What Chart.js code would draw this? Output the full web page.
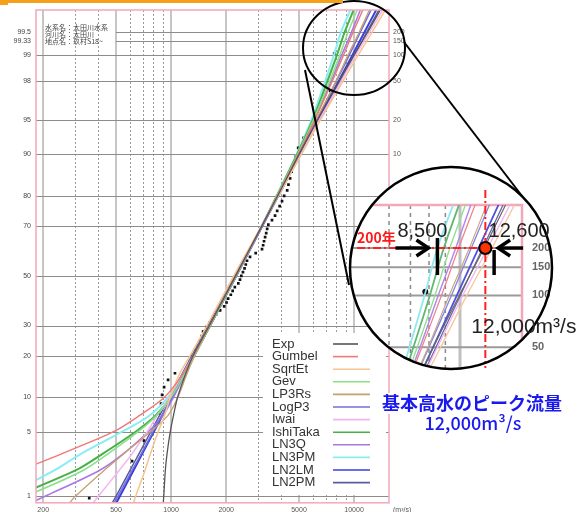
<!DOCTYPE html>
<html><head><meta charset="utf-8">
<script src="https://cdn.jsdelivr.net/npm/chart.js@4.4.1/dist/chart.umd.min.js"></script>
<style>
html,body{margin:0;padding:0;background:#fff;}
#wrap{position:relative;width:578px;height:512px;overflow:hidden;background:#fff;}
#main{position:absolute;left:0;top:0;width:578px;height:512px;}
#inset{position:absolute;left:345px;top:160px;width:233px;height:220px;}
</style></head><body>
<div id="wrap">
<canvas id="main" width="578" height="512"></canvas>
<canvas id="inset" width="233" height="220"></canvas>
</div>
<script>
// ---------------- DATA ----------------
const seriesNames = ['Exp','Gumbel','SqrtEt','Gev','LP3Rs','LogP3','Iwai','IshiTaka','LN3Q','LN3PM','LN2LM','LN2PM'];
// non-exceedance probability (%) at which each fitted curve is read
const probGrid = [0.8, 1, 2, 3, 5, 7, 10, 15, 20, 30, 50, 70, 80, 90, 95, 98, 99, 99.5, 99.8];
// discharge (m3/s) of each fitted curve at probGrid
const expQ      = [905, 912, 930, 950, 990, 1030, 1085, 1200, 1320, 1620, 2250, 3130, 3820, 5000, 6300, 8250, 9950, 11900, 14600];
const gumbelQ   = [50, 70, 150, 250, 485, 670, 920, 1160, 1330, 1620, 2250, 3130, 3800, 4950, 6100, 7600, 8750, 9900, 11600];
const sqrtEtQ   = [620, 640, 720, 770, 850, 920, 990, 1110, 1270, 1570, 2200, 3120, 3850, 5150, 6550, 8700, 10500, 12600, 15600];
const gevQ      = [120, 160, 330, 450, 660, 830, 1000, 1185, 1338, 1632, 2265, 3130, 3790, 4920, 6000, 7350, 8350, 9300, 10800];
const lp3rsQ    = [275, 300, 430, 550, 770, 960, 1090, 1220, 1350, 1640, 2255, 3120, 3800, 4980, 6220, 7950, 9250, 10700, 12600];
const logp3Q    = [485, 512, 612, 685, 797, 888, 1007, 1180, 1336, 1636, 2280, 3160, 3840, 5020, 6250, 8000, 9400, 10850, 12900];
const iwaiQ     = [370, 400, 520, 610, 740, 840, 975, 1160, 1320, 1625, 2270, 3150, 3850, 5100, 6450, 8500, 10200, 12200, 15100];
const ishiTakaQ = [110, 140, 300, 420, 640, 820, 990, 1185, 1338, 1635, 2270, 3130, 3780, 4880, 5950, 7150, 8050, 8900, 10300];
const ln3qQ     = [165, 205, 405, 545, 750, 900, 1030, 1190, 1340, 1635, 2265, 3135, 3800, 4950, 6050, 7500, 8550, 9700, 11200];
const ln3pmQ    = [90, 120, 230, 320, 540, 760, 960, 1185, 1338, 1635, 2265, 3120, 3770, 4850, 5850, 6950, 7750, 8500, 9900];
const ln2lmQ    = [498, 525, 623, 694, 805, 895, 1012, 1181, 1334, 1629, 2265, 3148, 3846, 5070, 6368, 8240, 9775, 11430, 13830];
const ln2pmQ    = [473, 500, 596, 666, 775, 864, 979, 1148, 1300, 1596, 2239, 3141, 3855, 5117, 6467, 8414, 10020, 11780, 14310];
// observed annual maxima (plotting positions)
const obsQ = [357,612,711,818,860,882,893,916,963,1050,
 1239,1270,1310,1352,1400,1439,1470,1496,1560,1620,
 1690,1760,1853,1950,2010,2050,2120,2170,2230,2330,
 2380,2420,2470,2520,2560,2600,2700,2900,3140,3185,
 3220,3265,3310,3350,3400,3560,3700,3800,3920,4040,
 4150,4310,4380,4470,4560,4640,4800,4950,5300,5970,
 6780,7400,7790];
const obsP = [0.95,2.53,4.11,5.70,7.28,8.86,10.44,12.03,13.61,15.19,
 16.77,18.35,19.94,21.52,23.10,24.68,26.27,27.85,29.43,31.01,
 32.59,34.18,35.76,37.34,38.92,40.51,42.09,43.67,45.25,46.84,
 48.42,50.00,51.58,53.16,54.75,56.33,57.91,59.49,61.08,62.66,
 64.24,65.82,67.41,68.99,70.57,72.15,73.73,75.32,76.90,78.48,
 80.06,81.65,83.23,84.81,86.39,87.97,89.56,91.14,92.72,94.30,
 95.89,97.47,99.05];
// axis ticks
const leftTickP = [1,5,10,20,30,50,70,80,90,95,98,99,99.33,99.5];
const leftTickLabels = ['1','5','10','20','30','50','70','80','90','95','98','99','99.33','99.5'];
const rightTickP = [90,95,98,99,99.333,99.5];
const rightTickLabels = ['10','20','50','100','150','200'];
const insetTickP = [99.5,99.333,99,98];
const insetTickLabels = ['200','150','100','50'];
const xTickValues = [200,500,1000,2000,5000,10000];
const xTickLabels = ['200','500','1000','2000','5000','10000'];
const xMinorGrid = [300,400,600,700,800,900,3000,4000,6000,7000,8000,9000];
const insetMinorGrid = [6000,7000,8000,9000];
const insetMajorGrid = [10000];
const lowValue = 8500, highValue = 12600, designValue = 12000, designP = 99.5;
const infoLines = ['水系名：太田川水系','河川名：太田川','地点名：玖村S18~'];
const blueTitle = '基本高水のピーク流量';
const blueValue = '12,000m³/s';

// ---------------- STYLE ----------------
const curveColors = ['#555555','#f07878','#f6c48c','#88e088','#c8a070','#7070d8','#f4b4f0','#48b048','#a878e8','#88eef4','#3c3ce0','#5c5c9c'];
const curveWidths = [1.3,1.4,1.5,1.5,1.3,1.5,1.5,2,1.6,2,2,1.5];
const insetColors = ['#666666','#f08090','#f6c8a0','#90e090','#c8a880','#8888e0','#f4b8f0','#60b870','#b088e8','#90e8f0','#5050e0','#6868a8'];

// inverse normal CDF (normal probability paper axis)
function probit(p){
  const a=[-3.969683028665376e+01,2.209460984245205e+02,-2.759285104469687e+02,1.383577518672690e+02,-3.066479806614716e+01,2.506628277459239e+00];
  const b=[-5.447609879822406e+01,1.615858368580409e+02,-1.556989798598866e+02,6.680131188771972e+01,-1.328068155288572e+01];
  const c=[-7.784894002430293e-03,-3.223964580411365e-01,-2.400758277161838e+00,-2.549732539343734e+00,4.374664141464968e+00,2.938163982698783e+00];
  const d=[7.784695709041462e-03,3.224671290700398e-01,2.445134137142996e+00,3.754408661907416e+00];
  const pl=0.02425; let q,r;
  if(p<pl){q=Math.sqrt(-2*Math.log(p));return (((((c[0]*q+c[1])*q+c[2])*q+c[3])*q+c[4])*q+c[5])/((((d[0]*q+d[1])*q+d[2])*q+d[3])*q+1);}
  if(p<=1-pl){q=p-0.5;r=q*q;return (((((a[0]*r+a[1])*r+a[2])*r+a[3])*r+a[4])*r+a[5])*q/(((((b[0]*r+b[1])*r+b[2])*r+b[3])*r+b[4])*r+1);}
  q=Math.sqrt(-2*Math.log(1-p));return -(((((c[0]*q+c[1])*q+c[2])*q+c[3])*q+c[4])*q+c[5])/((((d[0]*q+d[1])*q+d[2])*q+d[3])*q+1);
}
const Z = pct => probit(pct/100);
const curveQ = [expQ,gumbelQ,sqrtEtQ,gevQ,lp3rsQ,logp3Q,iwaiQ,ishiTakaQ,ln3qQ,ln3pmQ,ln2lmQ,ln2pmQ];

function buildDatasets(colors, wScale, ptR, ptStyle){
  const ds = seriesNames.map((name,i)=>({
    label:name, showLine:true, tension:0.3, fill:false,
    data: probGrid.map((p,j)=>({x:curveQ[i][j], y:Z(p)})),
    borderColor:colors[i], borderWidth:curveWidths[i]*wScale,
    pointRadius:0, pointHoverRadius:0
  }));
  ds.push({label:'obs', showLine:false,
    data: obsQ.map((q,j)=>({x:q, y:Z(obsP[j])})),
    pointStyle:ptStyle, pointRadius:ptR, pointHoverRadius:ptR,
    backgroundColor:'#111', borderColor:'#111', borderWidth:0});
  return ds;
}

Chart.defaults.font.family = "'Liberation Sans', Arial, sans-serif";
const CJK = "'Noto Sans CJK JP', sans-serif";

function arrow(ctx, x0, y, x1){
  ctx.beginPath(); ctx.moveTo(x0,y); ctx.lineTo(x1,y); ctx.stroke();
  const d = x1>x0 ? -1 : 1;
  ctx.beginPath(); ctx.moveTo(x1+d*12,y-8); ctx.lineTo(x1,y); ctx.lineTo(x1+d*12,y+8); ctx.stroke();
}

// ---------------- MAIN CHART ----------------
const mainPlugin = {
  id:'mainDecor',
  beforeDatasetsDraw(chart){
    const {ctx, chartArea:a, scales:{x,y}} = chart;
    ctx.save();
    ctx.beginPath(); ctx.rect(a.left,a.top,a.right-a.left,a.bottom-a.top); ctx.clip();
    ctx.strokeStyle='#9a9a9a'; ctx.lineWidth=1; ctx.setLineDash([2,2]);
    xMinorGrid.forEach(v=>{const px=Math.round(x.getPixelForValue(v))+0.5;ctx.beginPath();ctx.moveTo(px,a.top);ctx.lineTo(px,a.bottom);ctx.stroke();});
    ctx.setLineDash([]); ctx.strokeStyle='#c6c6c6'; ctx.lineWidth=2;
    xTickValues.forEach(v=>{const px=Math.round(x.getPixelForValue(v));ctx.beginPath();ctx.moveTo(px,a.top);ctx.lineTo(px,a.bottom);ctx.stroke();});
    ctx.strokeStyle='#8c8c8c'; ctx.lineWidth=1;
    leftTickP.forEach(p=>{const py=Math.round(y.getPixelForValue(Z(p)))+0.5;const x0=p>=99.3?x.getPixelForValue(500):a.left;ctx.beginPath();ctx.moveTo(x0,py);ctx.lineTo(a.right,py);ctx.stroke();});
    ctx.restore();
  },
  afterDraw(chart){
    const {ctx, chartArea:a, scales:{x}} = chart;
    ctx.save();
    // legend box
    ctx.fillStyle='#fff'; ctx.fillRect(263,333,123,162);
    ctx.font="13px 'Liberation Sans', Arial, sans-serif"; ctx.textBaseline='middle'; ctx.textAlign='left';
    seriesNames.forEach((n,i)=>{
      const yy=344+i*12.6;
      ctx.fillStyle='#333'; ctx.fillText(n,272,yy);
      ctx.strokeStyle=curveColors[i]; ctx.lineWidth=1.6;
      ctx.beginPath(); ctx.moveTo(333,yy); ctx.lineTo(i<2?358:370,yy); ctx.stroke();
    });
    // plot border
    ctx.strokeStyle='#f2a8b8'; ctx.lineWidth=1.5;
    ctx.strokeRect(a.left,a.top,a.right-a.left,a.bottom-a.top);
    // bottom axis labels
    ctx.fillStyle='#555'; ctx.font="7px 'Liberation Sans', Arial"; ctx.textBaseline='top'; ctx.textAlign='center';
    xTickValues.forEach((v,i)=>ctx.fillText(xTickLabels[i], x.getPixelForValue(v), 507));
    ctx.textAlign='left';
    ctx.fillText('(m³/s)',393,507);
    // info text
    ctx.fillStyle='#444'; ctx.font="7px "+CJK; ctx.textBaseline='middle';
    infoLines.forEach((t,i)=>ctx.fillText(t,45,27+i*7.3));
    // blue caption
    ctx.fillStyle='#fff'; ctx.fillRect(376,393,192,21); ctx.fillRect(423,414,102,18);
    ctx.fillStyle='#1a1aee'; ctx.textAlign='center'; ctx.textBaseline='middle';
    ctx.font="bold 18px "+CJK; ctx.fillText(blueTitle,472,403);
    ctx.font="500 18px "+CJK; ctx.fillText(blueValue,473,423);
    // small magnifier ellipse and tangent lines
    ctx.strokeStyle='#000'; ctx.lineWidth=2;
    ctx.beginPath(); ctx.ellipse(354,48,51,47,0,0,Math.PI*2); ctx.stroke();
    ctx.beginPath(); ctx.moveTo(305,70); ctx.lineTo(349,285); ctx.stroke();
    ctx.beginPath(); ctx.moveTo(404,42); ctx.lineTo(522,196); ctx.stroke();
    // orange header bar
    ctx.fillStyle='#f5a01a'; ctx.fillRect(0,0,343,3); ctx.fillRect(0,0,8,5);
    ctx.restore();
  }
};

new Chart(document.getElementById('main'), {
  type:'scatter',
  data:{datasets:buildDatasets(curveColors,1,1.9,'rect')},
  options:{
    responsive:false, animation:false, devicePixelRatio:1,
    layout:{padding:{left:0,right:169,top:10,bottom:0}},
    plugins:{legend:{display:false},tooltip:{enabled:false}},
    scales:{
      x:{type:'logarithmic',min:182.7,max:15520,position:'bottom',
        afterBuildTicks:s=>{s.ticks=xTickValues.map(v=>({value:v}));},
        afterFit:s=>{s.height=7;},
        grid:{display:false,drawTicks:false},border:{display:false},
        ticks:{display:false}},
      y:{type:'linear',min:-2.395,max:2.805,position:'left',
        afterBuildTicks:s=>{s.ticks=leftTickP.map(p=>({value:Z(p)}));},
        afterFit:s=>{s.width=36;},
        grid:{display:false,drawTicks:false},border:{display:false},
        ticks:{autoSkip:false,padding:5,font:{size:7},color:'#444',callback:(v,i)=>leftTickLabels[i]}},
      y2:{type:'linear',min:-2.395,max:2.805,position:'right',
        afterBuildTicks:s=>{s.ticks=rightTickP.map(p=>({value:Z(p)}));},
        afterFit:s=>{s.width=20;},
        grid:{display:false,drawTicks:false},border:{display:false},
        ticks:{autoSkip:false,padding:4,font:{size:7},color:'#555',callback:(v,i)=>rightTickLabels[i]}}
    }
  },
  plugins:[mainPlugin]
});

// ---------------- INSET (magnified) CHART ----------------
const CX=106, CY=108, CR=101;
const insetPlugin = {
  id:'insetDecor',
  beforeDraw(chart){
    const ctx=chart.ctx;
    ctx.save();
    ctx.beginPath(); ctx.arc(CX,CY,CR,0,Math.PI*2); ctx.clip();
    ctx.fillStyle='#fff'; ctx.fillRect(0,0,chart.width,chart.height);
  },
  beforeDatasetsDraw(chart){
    const {ctx, chartArea:a, scales:{x,y}} = chart;
    ctx.save();
    ctx.strokeStyle='#8a8a8a'; ctx.lineWidth=1.5; ctx.setLineDash([4,4]);
    insetMinorGrid.forEach(v=>{const px=x.getPixelForValue(v);ctx.beginPath();ctx.moveTo(px,a.top);ctx.lineTo(px,a.bottom);ctx.stroke();});
    ctx.setLineDash([]); ctx.strokeStyle='#c0c0c0'; ctx.lineWidth=3;
    insetMajorGrid.forEach(v=>{const px=x.getPixelForValue(v);ctx.beginPath();ctx.moveTo(px,a.top);ctx.lineTo(px,a.bottom);ctx.stroke();});
    ctx.strokeStyle='#9a9a9a'; ctx.lineWidth=2;
    insetTickP.forEach(p=>{const py=y.getPixelForValue(Z(p));ctx.beginPath();ctx.moveTo(0,py);ctx.lineTo(a.right,py);ctx.stroke();});
    ctx.strokeStyle='#f2a8b8'; ctx.lineWidth=2.5;
    ctx.beginPath(); ctx.moveTo(a.left+5,a.top); ctx.lineTo(a.right,a.top); ctx.lineTo(a.right,chart.height); ctx.stroke();
    ctx.restore();
  },
  afterDraw(chart){
    const {ctx, chartArea:a, scales:{x,y}} = chart;
    ctx.restore();
    ctx.save();
    // tick labels of the magnified axis
    ctx.fillStyle='#666'; ctx.font="bold 11px 'Liberation Sans', Arial, sans-serif";
    ctx.textAlign='left'; ctx.textBaseline='middle';
    insetTickP.forEach((p,i)=>ctx.fillText(insetTickLabels[i], a.right+10, y.getPixelForValue(Z(p))));
    const y200=y.getPixelForValue(Z(designP));
    const xd=x.getPixelForValue(designValue), xl=x.getPixelForValue(lowValue), xh=x.getPixelForValue(highValue);
    // red dash-dot lines
    ctx.strokeStyle='#ff2020'; ctx.lineWidth=2; ctx.setLineDash([8,3,2,3]);
    ctx.beginPath(); ctx.moveTo(12,y200); ctx.lineTo(176,y200); ctx.stroke();
    ctx.beginPath(); ctx.moveTo(xd,30); ctx.lineTo(xd,208); ctx.stroke();
    ctx.setLineDash([]);
    // bars and arrows
    ctx.strokeStyle='#000'; ctx.lineWidth=3.5; ctx.lineCap='butt'; ctx.lineJoin='miter';
    ctx.beginPath(); ctx.moveTo(xl,y200-10); ctx.lineTo(xl,y200+27); ctx.stroke();
    ctx.beginPath(); ctx.moveTo(xh+2,y200+2); ctx.lineTo(xh+2,y200+27); ctx.stroke();
    arrow(ctx, xl-42, y200, xl-9);
    arrow(ctx, xh+31, y200, xh+6);
    // design point
    ctx.fillStyle='#ff3300'; ctx.lineWidth=2;
    ctx.beginPath(); ctx.arc(xd,y200,6,0,Math.PI*2); ctx.fill(); ctx.stroke();
    // circle outline
    ctx.lineWidth=2.5; ctx.beginPath(); ctx.arc(CX,CY,CR,0,Math.PI*2); ctx.stroke();
    // texts
    ctx.fillStyle='#222'; ctx.font="20px 'Liberation Sans', Arial, sans-serif"; ctx.textBaseline='alphabetic';
    ctx.textAlign='center';
    ctx.fillText('8,500', xl-15, y200-11);
    ctx.fillText('12,600', xh+27, y200-11);
    ctx.textAlign='left';
    ctx.font="21px 'Liberation Sans', Arial, sans-serif";
    ctx.fillText('12,000m³/s', xd-14, y200+85);
    ctx.fillStyle='#ff1a1a'; ctx.font="bold 14px "+CJK;
    ctx.fillText('200年', 12, y200-5);
    ctx.restore();
  }
};

new Chart(document.getElementById('inset'), {
  type:'scatter',
  data:{datasets:buildDatasets(insetColors,0.9,3,'circle')},
  options:{
    responsive:false, animation:false, devicePixelRatio:1,
    layout:{padding:{left:7,right:56,top:45,bottom:8}},
    plugins:{legend:{display:false},tooltip:{enabled:false}},
    scales:{
      x:{type:'logarithmic',min:4597,max:15623,display:false},
      y:{type:'linear',min:1.9234,max:2.8023,display:false}
    }
  },
  plugins:[insetPlugin]
});
</script></body></html>
